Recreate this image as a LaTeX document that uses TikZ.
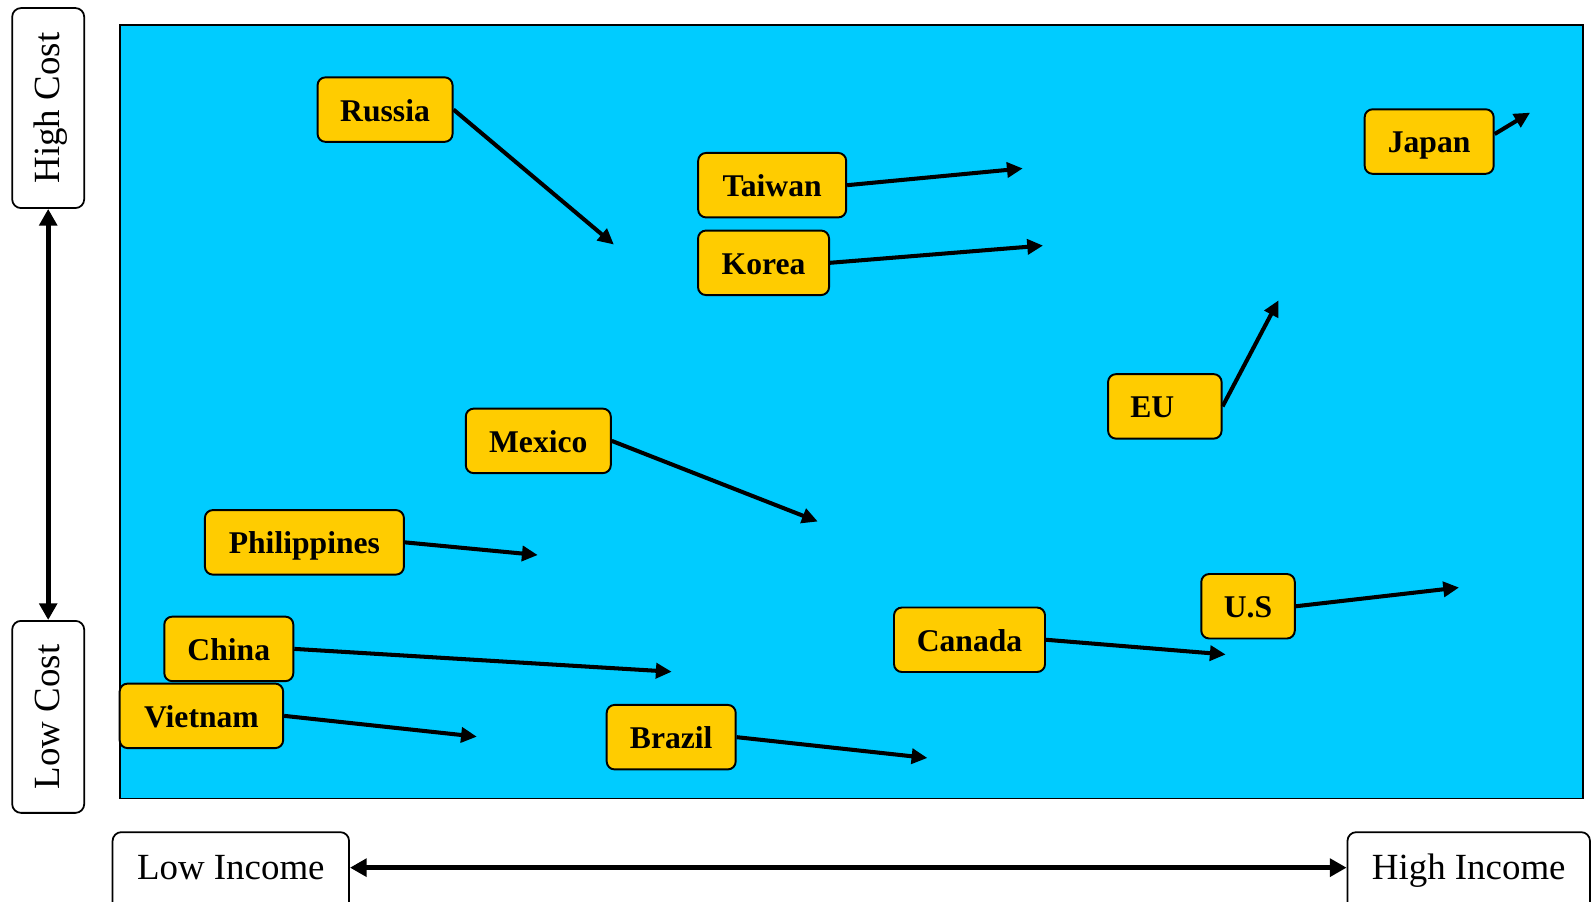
\documentclass[tikz,border=0pt]{standalone}
\usepackage{fontspec}
\setmainfont{Liberation Serif}
\usetikzlibrary{arrows.meta}
\definecolor{sea}{HTML}{00CCFF}
\definecolor{gold}{HTML}{FFCC00}
\begin{document}
\begin{tikzpicture}[
       x=0.0203cm,
       y=-0.0203cm,
       land/.style={
         rectangle,
         rounded corners=4.5pt,
         draw=black,
         fill=gold,
         line width=1.1pt,
         minimum height=1.29cm,
         inner sep=0pt,
         text height=13pt,
         text depth=0pt,
         font=\fontsize{18}{21}\selectfont\bfseries
       },
       axisbox/.style={
         rectangle,
         rounded corners=5pt,
         draw=black,
         fill=white,
         line width=1pt,
         inner sep=0pt,
         text height=14pt,
         text depth=9pt,
         font=\fontsize{21}{24}\selectfont
       },
       landarrow/.style={
         line width=2.3pt,
         -{Triangle[length=9pt,width=8.5pt]}
       },
       spanarrow/.style={
         line width=2.9pt,
         {Triangle[length=9.5pt,width=10pt]}-{Triangle[length=9.5pt,width=10pt]}
       }
     ]

       \useasboundingbox (0,0) rectangle (1568,888);
       \draw[fill=sea,line width=1pt] (118,25) rectangle (1560,787);

       \node (hc) at (47.5,106.5) [axisbox,text depth=1.5pt,rotate=90,minimum width=4.0cm,minimum height=1.44cm]{High Cost};
       \node (lc) at (47.5,706.5) [axisbox,text depth=1.5pt,rotate=90,minimum width=3.84cm,minimum height=1.44cm]{Low Cost};
       \node (li) at (227.5,862) [axisbox,minimum width=4.73cm,minimum height=1.7cm]{Low Income};
       \node (hi) at (1447.5,862) [axisbox,minimum width=4.85cm,minimum height=1.7cm]{High Income};

       \draw[spanarrow] (hc) -- (lc);
       \draw[spanarrow] ([yshift=0.14cm]li.east) -- ([yshift=0.14cm]hi.west);

       \node (ru) at (379.5,108) [land,minimum width=2.70cm]{Russia};
       \node (tw) at (761,182.5) [land,minimum width=2.96cm]{Taiwan};
       \node (ko) at (752.5,259) [land,minimum width=2.62cm]{Korea};
       \node (jp) at (1408.5,139.5) [land,minimum width=2.58cm]{Japan};
       \node (eu) at (1148,400.5) [land,minimum width=2.27cm]{\hspace*{-0.5cm}EU};
       \node (mx) at (530.5,434.5) [land,minimum width=2.90cm]{Mexico};
       \node (ph) at (300,534.5) [land,minimum width=3.98cm]{Philippines};
       \node (us) at (1230,597.5) [land,minimum width=1.87cm]{U.S};
       \node (ca) at (955.5,630.5) [land,minimum width=3.02cm]{Canada};
       \node (cn) at (225.5,639.5) [land,minimum width=2.58cm]{China};
       \node (vn) at (198.5,705.5) [land,minimum width=3.27cm]{Vietnam};
       \node (br) at (661.5,726.5) [land,minimum width=2.58cm]{Brazil};

       \coordinate (ru2) at (605,241);
       \coordinate (tw2) at (1008,166);
       \coordinate (ko2) at (1028,242);
       \coordinate (jp2) at (1508,111);
       \coordinate (eu2) at (1260,296);
       \coordinate (mx2) at (806,514);
       \coordinate (ph2) at (530,547);
       \coordinate (us2) at (1438,579);
       \coordinate (ca2) at (1208,645);
       \coordinate (cn2) at (662,662);
       \coordinate (vn2) at (470,726);
       \coordinate (br2) at (914,747);

       \draw[landarrow] (ru.east) -- (ru2);
       \draw[landarrow] (tw.east) -- (tw2);
       \draw[landarrow] (ko.east) -- (ko2);
       \draw[landarrow] ([yshift=0.15cm]jp.east) -- (jp2);
       \draw[landarrow] (eu.east) -- (eu2);
       \draw[landarrow] (mx.east) -- (mx2);
       \draw[landarrow] (ph.east) -- (ph2);
       \draw[landarrow] (us.east) -- (us2);
       \draw[landarrow] (ca.east) -- (ca2);
       \draw[landarrow] (cn.east) -- (cn2);
       \draw[landarrow] (vn.east) -- (vn2);
       \draw[landarrow] (br.east) -- (br2);

\end{tikzpicture}
\end{document}
